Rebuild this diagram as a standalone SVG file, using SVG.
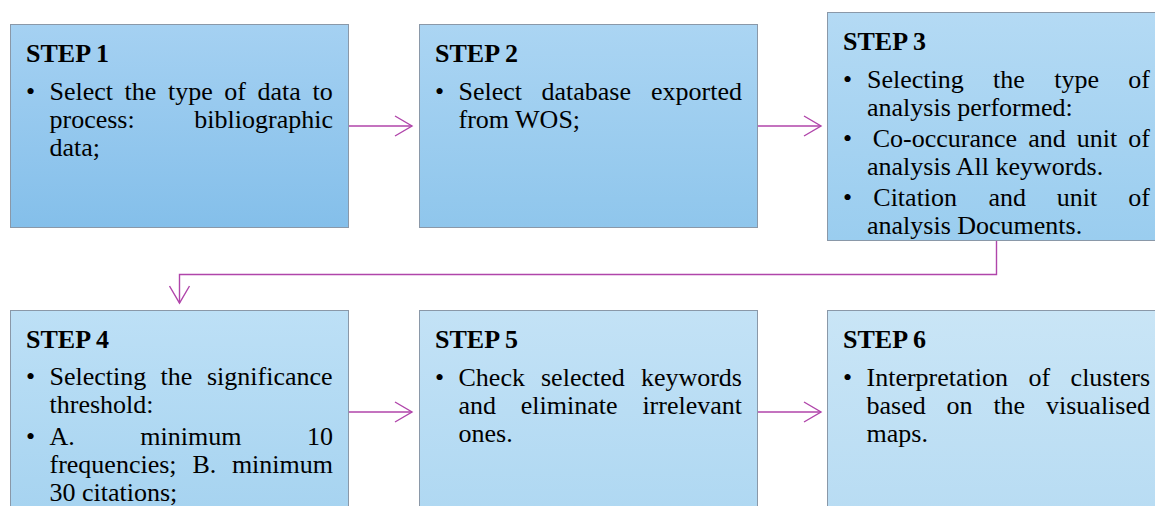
<svg xmlns="http://www.w3.org/2000/svg" width="1155" height="506" viewBox="0 0 1155 506">
<style>
.box{stroke:#8a98a8;stroke-width:1}
.t{font-family:"Liberation Serif","Times New Roman",serif;font-size:26px;fill:#000}
.h{font-weight:bold}
.c{fill:none;stroke:#b045aa;stroke-width:1.4}
</style>
<defs>
<linearGradient id="g1" x1="0" y1="0" x2="0" y2="1"><stop offset="0" stop-color="#a5d1f2"/><stop offset="1" stop-color="#84bfea"/></linearGradient>
<linearGradient id="g2" x1="0" y1="0" x2="0" y2="1"><stop offset="0" stop-color="#abd5f3"/><stop offset="1" stop-color="#8fc6ec"/></linearGradient>
<linearGradient id="g3" x1="0" y1="0" x2="0" y2="1"><stop offset="0" stop-color="#b4daf4"/><stop offset="1" stop-color="#9acdef"/></linearGradient>
<linearGradient id="g4" x1="0" y1="0" x2="0" y2="1"><stop offset="0" stop-color="#bde0f6"/><stop offset="1" stop-color="#a6d3f0"/></linearGradient>
<linearGradient id="g5" x1="0" y1="0" x2="0" y2="1"><stop offset="0" stop-color="#c3e2f6"/><stop offset="1" stop-color="#afd8f2"/></linearGradient>
<linearGradient id="g6" x1="0" y1="0" x2="0" y2="1"><stop offset="0" stop-color="#c9e5f6"/><stop offset="1" stop-color="#b8dcf3"/></linearGradient>
<marker id="ah" viewBox="0 0 20 22" refX="18" refY="11" markerWidth="20" markerHeight="22" markerUnits="userSpaceOnUse" orient="auto">
<path d="M1,1 L18,11 L1,21" fill="none" stroke="#b045aa" stroke-width="1.4"/>
</marker>
</defs>

<g id="connectors">
<line class="c" x1="348" y1="126" x2="412" y2="126" marker-end="url(#ah)"/>
<line class="c" x1="757" y1="126" x2="821" y2="126" marker-end="url(#ah)"/>
<polyline class="c" points="996.5,240 996.5,274.5 179.5,274.5 179.5,303" marker-end="url(#ah)"/>
<line class="c" x1="348" y1="412" x2="412" y2="412" marker-end="url(#ah)"/>
<line class="c" x1="757" y1="412" x2="821" y2="412" marker-end="url(#ah)"/>
</g>

<g id="step1">
<rect class="box" x="10.5" y="24.5" width="338" height="203" fill="url(#g1)"/>
<text class="t h" x="26" y="62">STEP 1</text>
<text class="t" y="100"><tspan x="26">•</tspan><tspan x="49.5">Select</tspan><tspan x="124.5">the</tspan><tspan x="168">type</tspan><tspan x="224.3">of</tspan><tspan x="257.5">data</tspan><tspan x="312.5">to</tspan></text>
<text class="t" y="128"><tspan x="49.5">process:</tspan><tspan x="194.3">bibliographic</tspan></text>
<text class="t" x="49.5" y="156">data;</text>
</g>

<g id="step2">
<rect class="box" x="419.5" y="24.5" width="338" height="203" fill="url(#g2)"/>
<text class="t h" x="435" y="62">STEP 2</text>
<text class="t" y="100"><tspan x="435">•</tspan><tspan x="458.5">Select</tspan><tspan x="541.5">database</tspan><tspan x="651">exported</tspan></text>
<text class="t" x="458.5" y="128">from WOS;</text>
</g>

<g id="step3">
<rect class="box" x="827.5" y="12.5" width="338" height="228" fill="url(#g3)"/>
<text class="t h" x="843" y="50">STEP 3</text>
<text class="t" y="87.5"><tspan x="843">•</tspan><tspan x="867">Selecting</tspan><tspan x="993">the</tspan><tspan x="1054.2">type</tspan><tspan x="1128.3">of</tspan></text>
<text class="t" x="867" y="115.5">analysis performed:</text>
<text class="t" y="147"><tspan x="843">•</tspan><tspan x="872.7">Co-occurance</tspan><tspan x="1028.2">and</tspan><tspan x="1076.8">unit</tspan><tspan x="1128.3">of</tspan></text>
<text class="t" x="867" y="175">analysis All keywords.</text>
<text class="t" y="206"><tspan x="843">•</tspan><tspan x="873.3">Citation</tspan><tspan x="988.5">and</tspan><tspan x="1056.8">unit</tspan><tspan x="1128.3">of</tspan></text>
<text class="t" x="867" y="234">analysis Documents.</text>
</g>

<g id="step4">
<rect class="box" x="10.5" y="310.5" width="338" height="203" fill="url(#g4)"/>
<text class="t h" x="26" y="348">STEP 4</text>
<text class="t" y="385"><tspan x="26">•</tspan><tspan x="49.5">Selecting</tspan><tspan x="160.5">the</tspan><tspan x="207">significance</tspan></text>
<text class="t" x="49.5" y="413">threshold:</text>
<text class="t" y="445"><tspan x="26">•</tspan><tspan x="49.5">A.</tspan><tspan x="140.3">minimum</tspan><tspan x="307">10</tspan></text>
<text class="t" y="473"><tspan x="49.5">frequencies;</tspan><tspan x="192.4">B.</tspan><tspan x="231.9">minimum</tspan></text>
<text class="t" x="49.5" y="501">30 citations;</text>
</g>

<g id="step5">
<rect class="box" x="419.5" y="310.5" width="338" height="203" fill="url(#g5)"/>
<text class="t h" x="435" y="348">STEP 5</text>
<text class="t" y="385.5"><tspan x="435">•</tspan><tspan x="458.5">Check</tspan><tspan x="541">selected</tspan><tspan x="640.9">keywords</tspan></text>
<text class="t" y="413.5"><tspan x="458.5">and</tspan><tspan x="520.8">eliminate</tspan><tspan x="642.4">irrelevant</tspan></text>
<text class="t" x="458.5" y="441.5">ones.</text>
</g>

<g id="step6">
<rect class="box" x="827.5" y="310.5" width="338" height="203" fill="url(#g6)"/>
<text class="t h" x="843" y="348">STEP 6</text>
<text class="t" y="385.5"><tspan x="843">•</tspan><tspan x="866.5">Interpretation</tspan><tspan x="1028.5">of</tspan><tspan x="1070.6">clusters</tspan></text>
<text class="t" y="413.5"><tspan x="866.5">based</tspan><tspan x="946.5">on</tspan><tspan x="993.4">the</tspan><tspan x="1046">visualised</tspan></text>
<text class="t" x="866.5" y="441.5">maps.</text>
</g>
</svg>
